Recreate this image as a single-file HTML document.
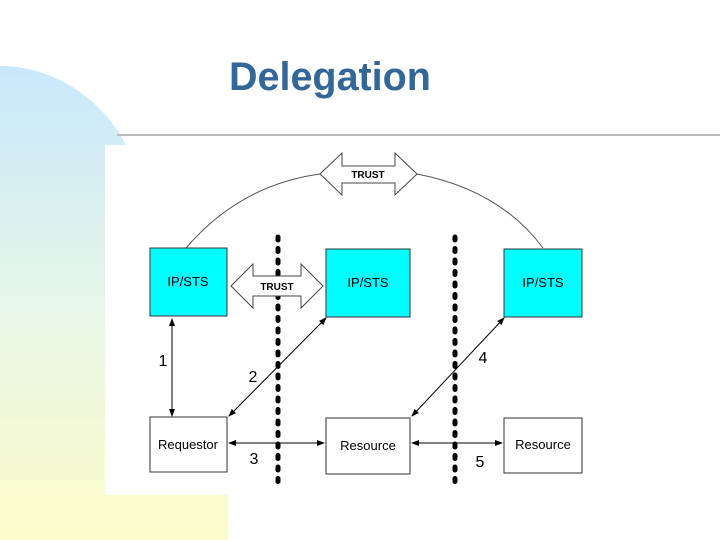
<!DOCTYPE html>
<html><head><style>
body{margin:0;width:720px;height:540px;overflow:hidden;background:#fff;position:relative;font-family:"Liberation Sans",sans-serif}
#bg{position:absolute;left:0;top:0;width:720px;height:540px}
.t{position:absolute;left:229px;top:54px;font-size:39.5px;font-weight:bold;color:#336699;line-height:46px}
</style></head><body>
<svg id="bg" width="720" height="540">
<defs>
<linearGradient id="g" x1="0" y1="0" x2="0" y2="1">
<stop offset="0" stop-color="#c9e8fb"/><stop offset="0.5" stop-color="#e6f6e8"/><stop offset="1" stop-color="#fdfbc9"/>
</linearGradient>
<marker id="a" markerWidth="8" markerHeight="8" refX="7" refY="4" orient="auto-start-reverse" markerUnits="userSpaceOnUse"><path d="M0,1 L8,4 L0,7z" fill="#000"/></marker>
</defs>
<path d="M0,66 C50,66 100,95 126,145 L228,145 L228,540 L0,540z" fill="url(#g)"/>
<rect x="105" y="145" width="495" height="350" fill="#fff"/>
<line x1="117" y1="135" x2="720" y2="135" stroke="#bbb" stroke-width="2"/>
<g font-family="Liberation Sans,sans-serif" font-size="13" text-anchor="middle">
<path d="M186,248 Q240,185 320,174" fill="none" stroke="#555"/>
<path d="M417,174 Q500,190 543,248" fill="none" stroke="#555"/>
<line x1="278" y1="237" x2="278" y2="483" stroke="#000" stroke-width="5" stroke-dasharray="3,8.5" stroke-linecap="round"/>
<line x1="455" y1="237" x2="455" y2="483" stroke="#000" stroke-width="5" stroke-dasharray="3,8.5" stroke-linecap="round"/>
<rect x="150" y="248" width="77" height="68" fill="#00ffff" stroke="#333"/>
<rect x="326" y="249" width="84" height="68" fill="#00ffff" stroke="#333"/>
<rect x="504" y="249" width="78" height="68" fill="#00ffff" stroke="#333"/>
<text x="188" y="286">IP/STS</text><text x="368" y="287">IP/STS</text><text x="543" y="287">IP/STS</text>
<rect x="150" y="417" width="77" height="55" fill="#fff" stroke="#333"/>
<rect x="326" y="418" width="84" height="56" fill="#fff" stroke="#333"/>
<rect x="504" y="418" width="78" height="55" fill="#fff" stroke="#333"/>
<text x="188" y="449">Requestor</text><text x="368" y="450">Resource</text><text x="543" y="449">Resource</text>
<path d="M320,174 L342,153 L342,166 L395,166 L395,153 L417,174 L395,195 L395,183 L342,183 L342,195z" fill="#fff" stroke="#444"/>
<text x="368" y="178" font-size="10" font-weight="bold">TRUST</text>
<path d="M231,286 L253,264 L253,276 L301,276 L301,264 L323,286 L301,308 L301,296 L253,296 L253,308z" fill="#fff" stroke="#444"/>
<text x="277" y="290" font-size="10" font-weight="bold">TRUST</text>
<g stroke="#000" marker-start="url(#a)" marker-end="url(#a)">
<line x1="172" y1="319" x2="172" y2="416"/>
<line x1="326" y1="318" x2="229" y2="416"/>
<line x1="229" y1="443" x2="324" y2="443"/>
<line x1="504" y1="318" x2="412" y2="416"/>
<line x1="412" y1="443" x2="502" y2="443"/>
</g>
<g font-size="16"><text x="163" y="366">1</text><text x="253" y="382">2</text><text x="254" y="464">3</text><text x="483" y="363">4</text><text x="480" y="467">5</text></g>
</g>
</svg>
<div class="t">Delegation</div>
</body></html>
